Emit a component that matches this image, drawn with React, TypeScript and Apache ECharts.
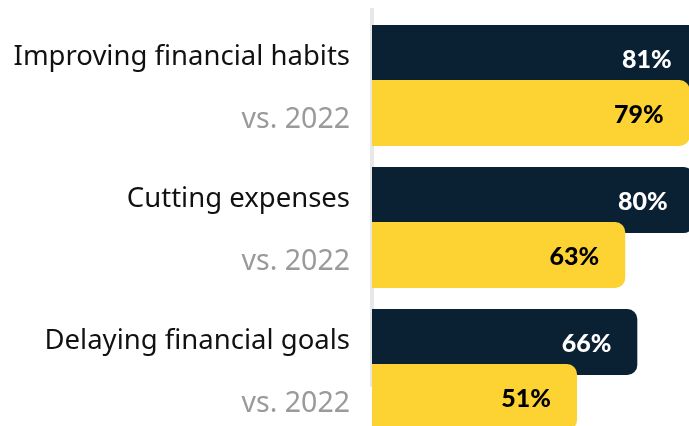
import React, { useEffect, useRef } from "react";
import * as echarts from "echarts";

const categories = ["Improving financial habits", "Cutting expenses", "Delaying financial goals"];
const compareLabel = "vs. 2022";
const current = [81, 80, 66];
const previous = [79, 63, 51];

export default function App() {
  const ref = useRef<HTMLDivElement>(null);
  useEffect(() => {
    if (!ref.current) return;
    const chart = echarts.init(ref.current, null, { renderer: "svg" });
    const valueLabel = (color: string) => ({
      show: true,
      position: "insideRight",
      distance: 26,
      formatter: "{c}%",
      color,
      fontFamily: "Lato",
      fontWeight: 900,
      fontSize: 25,
    });
    chart.setOption({
      animation: false,
      grid: { left: 372, top: 14.5, width: 402, height: 426, outerBoundsMode: "none", containLabel: false },
      xAxis: { type: "value", min: 0, max: 100, show: false },
      yAxis: {
        type: "category",
        inverse: true,
        data: categories,
        axisLine: { show: false },
        axisTick: { show: false },
        splitLine: { show: false },
        axisLabel: {
          margin: 22,
          align: "right",
          formatter: (v: string) => `{a|${v}}\n{b|${compareLabel}}`,
          rich: {
            a: { fontFamily: "Noto Sans", fontSize: 27.5, color: "#111111", lineHeight: 62, align: "right" },
            b: { fontFamily: "Noto Sans", fontSize: 28.5, color: "#9a9a9a", lineHeight: 62, align: "right" },
          },
        },
      },
      graphic: [
        { type: "rect", z: -1, shape: { x: 370, y: 8, width: 4, height: 379 }, style: { fill: "#e8e8e8" } },
      ],
      series: [
        {
          type: "bar",
          data: current,
          barWidth: 66,
          barGap: "-16.67%",
          itemStyle: { color: "#0a2033", borderRadius: [0, 10, 10, 0] },
          label: valueLabel("#ffffff"),
        },
        {
          type: "bar",
          data: previous,
          barWidth: 66,
          barGap: "-16.67%",
          itemStyle: { color: "#fcd333", borderRadius: [0, 10, 10, 0] },
          label: valueLabel("#000000"),
        },
      ],
    });
    return () => chart.dispose();
  }, []);
  return <div ref={ref} style={{ width: 689, height: 426, position: "fixed", left: 0, top: 0 }} />;
}
